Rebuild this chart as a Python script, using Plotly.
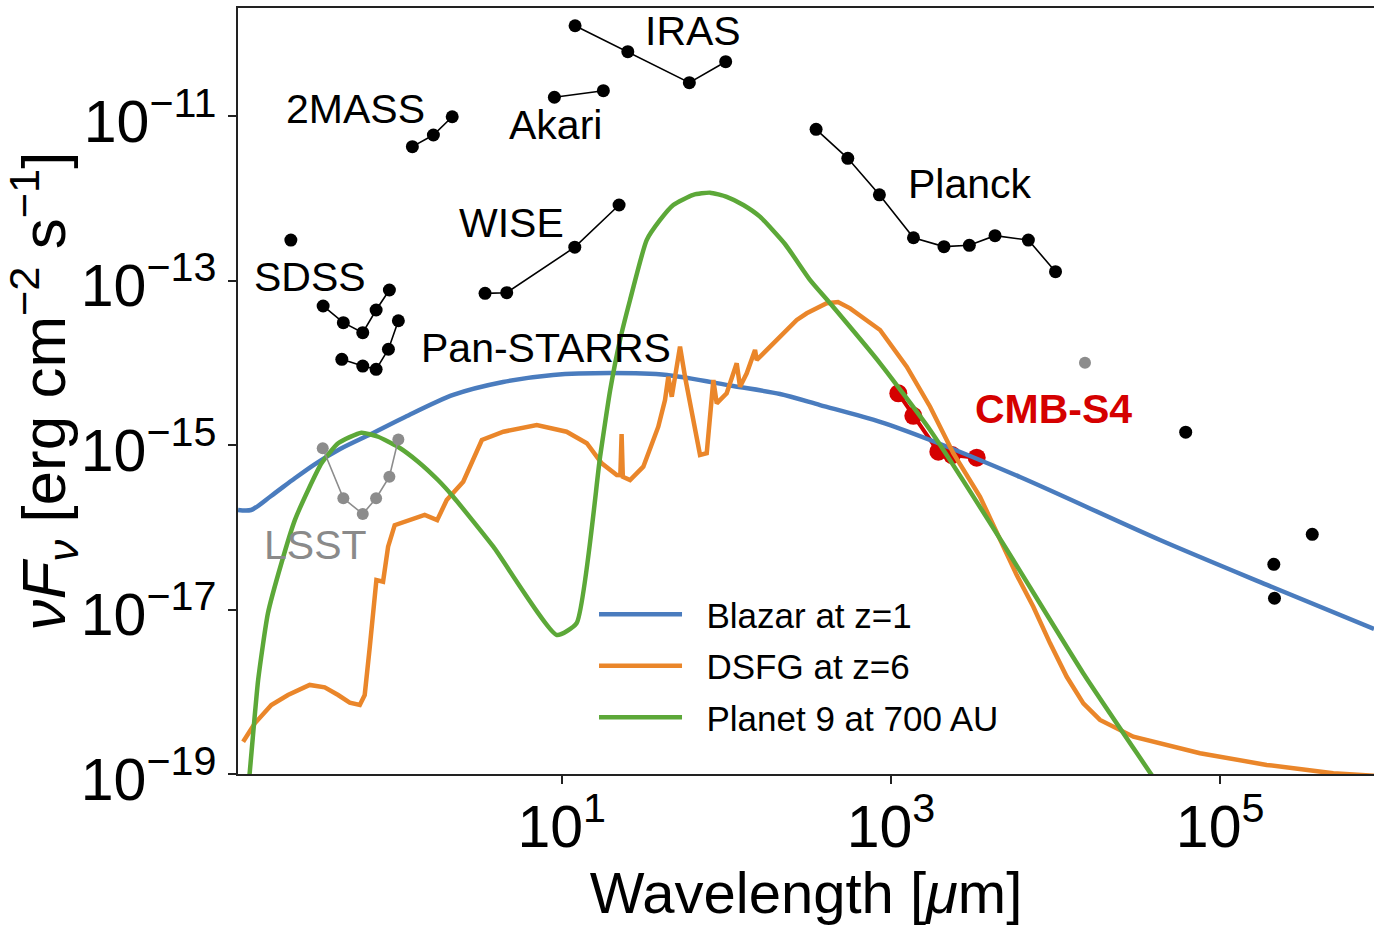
import numpy as np
import plotly.graph_objects as go

# ---------------- data (wavelength in micron, nuFnu in erg cm^-2 s^-1) ----------------
galex_wl = [0.226]
galex_f = [3.10e-13]

sdss_wl = [0.355, 0.471, 0.618, 0.745, 0.897]
sdss_f = [4.90e-14, 3.07e-14, 2.32e-14, 4.38e-14, 7.66e-14]

panstarrs_wl = [0.461, 0.618, 0.745, 0.885, 1.017]
panstarrs_f = [1.10e-14, 9.12e-15, 8.32e-15, 1.46e-14, 3.24e-14]

twomass_wl = [1.237, 1.66, 2.16]
twomass_f = [4.24e-12, 5.87e-12, 9.79e-12]

wise_wl = [3.42, 4.63, 12.0, 22.3]
wise_f = [6.98e-14, 7.11e-14, 2.54e-13, 8.28e-13]

akari_wl = [9.02, 17.9]
akari_f = [1.69e-11, 2.03e-11]

iras_wl = [12.05, 25.2, 59.6, 99.1]
iras_f = [1.25e-10, 6.05e-11, 2.54e-11, 4.57e-11]

planck_wl = [351, 547, 851, 1371, 2100, 2995, 4290, 6840, 10000]
planck_f = [6.89e-12, 3.06e-12, 1.10e-12, 3.31e-13, 2.58e-13, 2.68e-13, 3.51e-13, 3.10e-13, 1.28e-13]

radio_wl = [61800, 212000, 214000, 363000]
radio_f = [1.43e-15, 3.54e-17, 1.37e-17, 8.20e-17]

lsst_wl = [0.353, 0.471, 0.618, 0.745, 0.897, 1.017]
lsst_f = [9.12e-16, 2.25e-16, 1.45e-16, 2.25e-16, 4.12e-16, 1.17e-15]

gray_wl = [15100]
gray_f = [1.0e-14]

cmbs4_wl = [1109, 1368, 1941, 2350, 3320]
cmbs4_f = [4.25e-15, 2.26e-15, 8.29e-16, 7.55e-16, 7.01e-16]

blazar_wl = [0.108, 0.1295, 0.1714, 0.240, 0.317, 0.450, 0.694, 1.117, 2.19, 4.40, 8.86,
             19.6, 43.6, 110, 212, 371, 859, 1729, 6085, 43150, 192700, 861000]
blazar_f = [1.62e-16, 1.62e-16, 2.40e-16, 3.97e-16, 5.87e-16, 8.93e-16, 1.36e-15, 2.19e-15,
            4.06e-15, 5.83e-15, 7.10e-15, 7.50e-15, 7.10e-15, 5.21e-15, 4.17e-15, 3.06e-15,
            1.91e-15, 1.15e-15, 4.08e-16, 7.00e-17, 1.99e-17, 5.79e-18]

dsfg_wl = [0.1159, 0.1365, 0.172, 0.217, 0.294, 0.363, 0.438, 0.515, 0.593, 0.635, 0.682,
           0.748, 0.821, 0.881, 0.966, 1.164, 1.47, 1.75, 2.00, 2.52, 3.27, 4.42, 7.05, 10.7,
           14.2, 17.5, 21.6, 22.7, 23.1, 23.5, 26.0, 31.3, 38.6, 42.4, 44.4, 46.6, 52.3, 56.1,
           61.6, 69.2, 76.0, 79.6, 83.4, 87.4, 91.6, 100.5, 115.6, 121.1, 133, 149.4, 153,
           176, 222, 268, 308, 407, 477, 565, 859, 1247, 1729, 2393, 3478, 4600, 5810, 7330,
           9270, 11700, 14760, 18630, 29700, 75500, 191900, 487000, 861000]
dsfg_f = [2.47e-19, 4.13e-19, 6.90e-19, 9.12e-19, 1.21e-18, 1.13e-18, 9.12e-19, 7.36e-19,
          6.90e-19, 9.12e-19, 3.53e-18, 2.28e-17, 2.18e-17, 5.80e-17, 1.06e-16, 1.22e-16,
          1.41e-16, 1.22e-16, 2.14e-16, 3.58e-16, 1.15e-15, 1.45e-15, 1.75e-15, 1.45e-15,
          1.05e-15, 5.99e-16, 4.32e-16, 4.30e-16, 1.36e-15, 4.10e-16, 3.75e-16, 5.45e-16,
          1.67e-15, 3.52e-15, 6.76e-15, 3.86e-15, 1.57e-14, 6.76e-15, 2.43e-15, 7.55e-16,
          7.93e-16, 2.43e-15, 6.17e-15, 3.21e-15, 3.52e-15, 4.25e-15, 9.84e-15, 5.12e-15,
          7.45e-15, 1.43e-14, 1.08e-14, 1.43e-14, 2.28e-14, 3.31e-14, 3.99e-14, 5.28e-14,
          5.48e-14, 4.59e-14, 2.50e-14, 8.95e-15, 2.92e-15, 7.93e-16, 2.35e-16, 7.00e-17,
          2.62e-17, 1.08e-17, 3.88e-18, 1.52e-18, 7.23e-19, 4.54e-19, 2.84e-19, 1.79e-19,
          1.29e-19, 1.02e-19, 9.5e-20]

planet9_wl = [0.124, 0.127, 0.143, 0.164, 0.198, 0.239, 0.288, 0.347, 0.438, 0.606, 0.766,
              1.01, 1.34, 1.77, 2.19, 3.84, 9.33, 12.3, 17.1, 19.7, 22.6, 26.0, 32.8, 39.6,
              47.6, 63.0, 79.6, 100.5, 126.8, 160, 227, 323, 427, 859, 1729, 4600, 14760,
              38400, 43150]
planet9_f = [6.4e-20, 1.02e-19, 1.39e-18, 8.99e-18, 3.65e-17, 1.22e-16, 2.84e-16, 5.99e-16,
             1.05e-15, 1.41e-15, 1.26e-15, 9.53e-16, 6.27e-16, 3.75e-16, 2.35e-16, 5.80e-17,
             4.90e-18, 6.79e-18, 7.21e-16, 4.67e-15, 1.89e-14, 5.79e-14, 3.10e-13, 5.45e-13,
             8.28e-13, 1.10e-12, 1.17e-12, 1.04e-12, 8.28e-13, 5.97e-13, 2.78e-13, 1.01e-13,
             5.28e-14, 9.84e-15, 1.52e-15, 7.26e-17, 1.67e-18, 9.7e-20, 6.8e-20]

curve_names = ["Blazar at z=1", "DSFG at z=6", "Planet 9 at 700 AU"]

label_texts = ["2MASS", "SDSS", "Pan-STARRS", "WISE", "Akari", "IRAS", "Planck", "LSST", "<b>CMB-S4</b>"]
label_wl = [0.555, 0.296, 8.03, 4.92, 9.1, 62.8, 3030, 0.319, 9660]
label_f = [1.22e-11, 1.10e-13, 1.51e-14, 5.0e-13, 7.78e-12, 1.08e-10, 1.49e-12, 6.08e-17, 2.74e-15]
label_colors = ["black"] * 7 + ["#8a8a8a", "#d50000"]

x_tickvals = [1e1, 1e3, 1e5]
x_ticktext = ["10<sup>1</sup>", "10<sup>3</sup>", "10<sup>5</sup>"]
y_tickvals = [1e-19, 1e-17, 1e-15, 1e-13, 1e-11]
y_ticktext = ["10<sup>−19</sup>", "10<sup>−17</sup>", "10<sup>−15</sup>", "10<sup>−13</sup>", "10<sup>−11</sup>"]

# ---------------- styling ----------------
FONT = "Liberation Sans, Arial, sans-serif"
BLUE, ORANGE, GREEN = "#4A7CBE", "#EA862A", "#5CA838"
RED, GRAY = "#d50000", "#8c8c8c"
GAP = "\u00a0\u00a0"

fig = go.Figure()

# CMB-S4 (below the curves)
fig.add_trace(go.Scatter(x=cmbs4_wl, y=cmbs4_f, mode="lines+markers",
                         line=dict(color=RED, width=4), marker=dict(color=RED, size=18),
                         showlegend=False, hoverinfo="skip"))

# model curves
fig.add_trace(go.Scatter(x=blazar_wl, y=blazar_f, mode="lines", name=GAP + curve_names[0],
                         line=dict(color=BLUE, width=4.5, shape="spline", smoothing=0.8),
                         legendgroup="a"))
fig.add_trace(go.Scatter(x=dsfg_wl, y=dsfg_f, mode="lines", name=GAP + curve_names[1],
                         line=dict(color=ORANGE, width=4.5), legendgroup="b"))
fig.add_trace(go.Scatter(x=planet9_wl, y=planet9_f, mode="lines", name=GAP + curve_names[2],
                         line=dict(color=GREEN, width=4.5, shape="spline", smoothing=0.5),
                         legendgroup="c"))

# survey photometry (black)
for wl, f in [(sdss_wl, sdss_f), (panstarrs_wl, panstarrs_f), (twomass_wl, twomass_f),
              (wise_wl, wise_f), (akari_wl, akari_f), (iras_wl, iras_f), (planck_wl, planck_f)]:
    fig.add_trace(go.Scatter(x=wl, y=f, mode="lines+markers",
                             line=dict(color="black", width=1.6),
                             marker=dict(color="black", size=13),
                             showlegend=False, hoverinfo="skip"))
for wl, f in [(galex_wl, galex_f), (radio_wl, radio_f)]:
    fig.add_trace(go.Scatter(x=wl, y=f, mode="markers",
                             marker=dict(color="black", size=13),
                             showlegend=False, hoverinfo="skip"))

# LSST and grey point
fig.add_trace(go.Scatter(x=lsst_wl, y=lsst_f, mode="lines+markers",
                         line=dict(color=GRAY, width=1.6), marker=dict(color=GRAY, size=12),
                         showlegend=False, hoverinfo="skip"))
fig.add_trace(go.Scatter(x=gray_wl, y=gray_f, mode="markers",
                         marker=dict(color=GRAY, size=12),
                         showlegend=False, hoverinfo="skip"))

for t, wl, f, c in zip(label_texts, label_wl, label_f, label_colors):
    fig.add_annotation(x=np.log10(wl), y=np.log10(f), xref="x", yref="y", text=t,
                       showarrow=False, xanchor="center", yanchor="middle",
                       font=dict(family=FONT, size=41, color=c))

fig.update_xaxes(type="log", range=[-0.967, 5.935], tickvals=x_tickvals, ticktext=x_ticktext,
                 ticks="outside", ticklen=8, tickwidth=1.5, tickcolor="#222",
                 showline=True, linecolor="#222", linewidth=1.5, mirror=True,
                 showgrid=False, zeroline=False, ticklabelstandoff=-8,
                 tickfont=dict(family=FONT, size=59, color="black"),
                 title=dict(text="Wavelength [<i>μ</i>m]", font=dict(family=FONT, size=58, color="black"),
                            standoff=6))
fig.update_yaxes(type="log", range=[-19, -9.687], tickvals=y_tickvals, ticktext=y_ticktext,
                 ticks="outside", ticklen=8, tickwidth=1.5, tickcolor="#222",
                 showline=True, linecolor="#222", linewidth=1.5, mirror=False,
                 showgrid=False, zeroline=False, ticklabelshift=5,
                 tickfont=dict(family=FONT, size=59, color="black"),
                 title=dict(text="<i>νF</i><sub><i>ν</i></sub> [erg cm<sup>−2</sup> s<sup>−1</sup>]",
                            font=dict(family=FONT, size=62, color="black"), standoff=4))

fig.update_layout(
    width=1374, height=925,
    margin=dict(l=238, r=0, t=8, b=151, autoexpand=False),
    plot_bgcolor="white", paper_bgcolor="white",
    legend=dict(x=0.3134, y=0.141, xanchor="left", yanchor="middle",
                font=dict(family=FONT, size=35, color="black"),
                bgcolor="rgba(0,0,0,0)", borderwidth=0, itemwidth=83,
                tracegroupgap=3, traceorder="grouped"),
    showlegend=True,
)

fig.write_html("out.html", config={"displayModeBar": False},
               post_script="document.body.style.margin='0';document.body.style.overflow='hidden';")
